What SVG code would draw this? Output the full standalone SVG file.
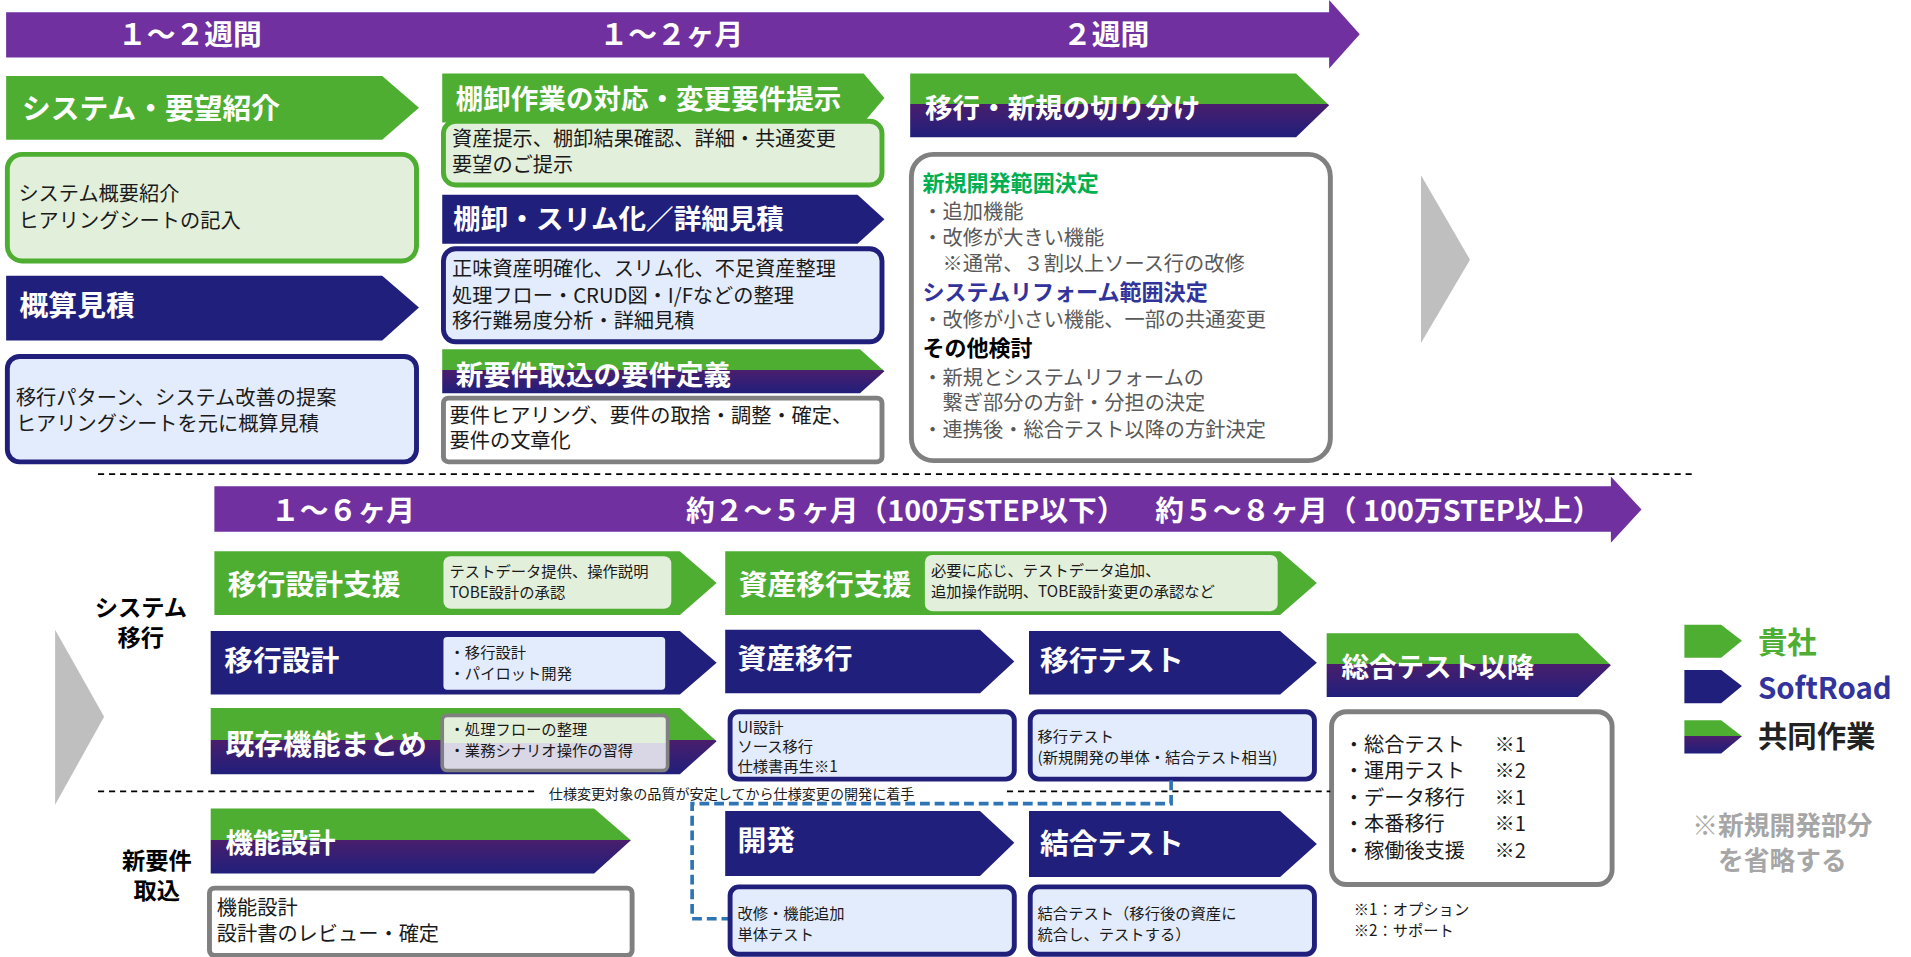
<svg xmlns="http://www.w3.org/2000/svg" width="1911" height="957" viewBox="0 0 1911 957">
<defs>
<linearGradient id="split" x1="0" y1="0" x2="0" y2="1">
<stop offset="0" stop-color="#4DAE32"/><stop offset="0.48" stop-color="#4DAE32"/><stop offset="0.48" stop-color="#4A1E6C"/><stop offset="1" stop-color="#201F7C"/>
</linearGradient>
<linearGradient id="splitbox" x1="0" y1="0" x2="0" y2="1">
<stop offset="0" stop-color="#E2EFDA"/><stop offset="0.5" stop-color="#E2EFDA"/><stop offset="0.5" stop-color="#D9D6E6"/><stop offset="1" stop-color="#D9D6E6"/>
</linearGradient>
<style>
text{font-family:"Noto Sans CJK JP","Liberation Sans",sans-serif}
.g{fill:#4DAE32}.n{fill:#201F7C}.s{fill:url(#split)}.p{fill:#7030A0}
.h{fill:#fff;font-weight:bold;font-size:23.5px}
.hb{fill:#fff;font-weight:bold;font-size:22.5px}
.t{fill:#1a1a1a;font-size:16.5px}
.ts{fill:#1a1a1a;font-size:12.5px}
.bg{fill:#E2EFDA;stroke:#4DAE32;stroke-width:4}
.bn{fill:#E3ECFC;stroke:#201F7C;stroke-width:4}
.bgr{fill:#fff;stroke:#808080;stroke-width:4}
.gr{fill:#595959;font-size:16.5px}
</style>
</defs>
<g transform="scale(1.225)">
<g id="bar1"><path class="p" d="M5,10H1085V0L1110,28L1085,56V47H5Z"/>
<text x="155" y="37" class="h" text-anchor="middle">１～２週間</text>
<text x="548" y="37" class="h" text-anchor="middle">１～２ヶ月</text>
<text x="903" y="37" class="h" text-anchor="middle">２週間</text></g>

<g id="n1"><path class="g" d="M5,62H312L342,88L312,114H5Z"/><text x="18" y="97" class="h">システム・要望紹介</text></g>
<g id="n1b"><rect x="6" y="126" width="334" height="87" rx="12" class="bg"/><text x="15" y="164" class="t">システム概要紹介</text><text x="15" y="186" class="t">ヒアリングシートの記入</text></g>
<g id="n2"><path class="n" d="M5,225H312L342,251L312,278H5Z"/><text x="16" y="258" class="h">概算見積</text></g>
<g id="n2b"><rect x="6" y="291" width="334" height="86" rx="10" class="bn"/><text x="13" y="331" class="t">移行パターン、システム改善の提案</text><text x="13" y="352" class="t">ヒアリングシートを元に概算見積</text></g>

<g id="n3"><path class="g" d="M361,60H705L722,80L705,100H361Z"/><text x="372" y="89" class="hb">棚卸作業の対応・変更要件提示</text></g>
<g id="n3b"><rect x="362" y="99" width="358" height="52" rx="10" class="bg"/><text x="369" y="119" class="t">資産提示、棚卸結果確認、詳細・共通変更</text><text x="369" y="140" class="t">要望のご提示</text></g>
<g id="n4"><path class="n" d="M361,159H700L722,179L700,199H361Z"/><text x="370" y="187" class="hb">棚卸・スリム化／詳細見積</text></g>
<g id="n4b"><rect x="362" y="203" width="358" height="76" rx="10" class="bn"/><text x="369" y="225" class="t">正味資産明確化、スリム化、不足資産整理</text><text x="369" y="247" class="t">処理フロー・CRUD図・I/Fなどの整理</text><text x="369" y="268" class="t">移行難易度分析・詳細見積</text></g>
<g id="n5"><path class="s" d="M361,285H702L722,303L702,321H361Z"/><text x="372" y="314" class="hb">新要件取込の要件定義</text></g>
<g id="n5b"><rect x="362" y="325" width="358" height="52" rx="4" class="bgr"/><text x="367" y="345" class="t">要件ヒアリング、要件の取捨・調整・確定、</text><text x="367" y="366" class="t">要件の文章化</text></g>

<g id="n6"><path class="s" d="M743,60H1058L1085,86L1058,112H743Z"/><text x="755" y="96" class="hb">移行・新規の切り分け</text></g>
<g id="n6b"><rect x="744" y="126" width="342" height="250" rx="18" class="bgr"/>
<text x="753" y="156" style="fill:#00B050;font-weight:bold;font-size:18px">新規開発範囲決定</text>
<text x="753" y="179" class="gr">・追加機能</text>
<text x="753" y="200" class="gr">・改修が大きい機能</text>
<text x="753" y="221" class="gr">　※通常、３割以上ソース行の改修</text>
<text x="753" y="245" style="fill:#33339C;font-weight:bold;font-size:18px">システムリフォーム範囲決定</text>
<text x="753" y="267" class="gr">・改修が小さい機能、一部の共通変更</text>
<text x="753" y="291" style="fill:#000;font-weight:bold;font-size:18px">その他検討</text>
<text x="753" y="314" class="gr">・新規とシステムリフォームの</text>
<text x="753" y="335" class="gr">　繋ぎ部分の方針・分担の決定</text>
<text x="753" y="357" class="gr">・連携後・総合テスト以降の方針決定</text></g>

<path d="M1160,143L1200,212L1160,280Z" fill="#BFBFBF"/>
<path d="M45,514L85,585L45,657Z" fill="#BFBFBF"/>
<line x1="80" y1="387" x2="1385" y2="387" stroke="#000" stroke-width="1.5" stroke-dasharray="5,4"/>

<g id="bar2"><path class="p" d="M175,397H1315V389L1340,416L1315,443V434H175Z"/>
<text x="280" y="425" class="h" text-anchor="middle">１～６ヶ月</text>
<text x="560" y="425" class="h">約２～５ヶ月（100万STEP以下）</text>
<text x="943" y="425" class="h">約５～８ヶ月（ 100万STEP以上）</text></g>

<text x="115" y="503" style="font-weight:bold;font-size:19px;fill:#000" text-anchor="middle">システム</text>
<text x="115" y="527" style="font-weight:bold;font-size:19px;fill:#000" text-anchor="middle">移行</text>
<text x="128" y="709" style="font-weight:bold;font-size:19px;fill:#000" text-anchor="middle">新要件</text>
<text x="128" y="734" style="font-weight:bold;font-size:19px;fill:#000" text-anchor="middle">取込</text>

<g id="a1"><path class="g" d="M175,450H555L585,476L555,502H175Z"/><text x="186" y="486" class="h">移行設計支援</text>
<rect x="362" y="454" width="186" height="43" rx="6" fill="#E2EFDA"/><text x="367" y="471" class="ts">テストデータ提供、操作説明</text><text x="367" y="488" class="ts">TOBE設計の承認</text></g>
<g id="a2"><path class="g" d="M592,450H1045L1075,476L1045,502H592Z"/><text x="603" y="486" class="h">資産移行支援</text>
<rect x="755" y="453" width="288" height="46" rx="6" fill="#E2EFDA"/><text x="760" y="470" class="ts">必要に応じ、テストデータ追加、</text><text x="760" y="487" class="ts">追加操作説明、TOBE設計変更の承認など</text></g>

<g id="b1"><path class="n" d="M172,515H555L585,541L555,567H172Z"/><text x="183" y="548" class="h">移行設計</text>
<rect x="362" y="520" width="181" height="43" rx="3" fill="#E3ECFC"/><text x="367" y="537" class="ts">・移行設計</text><text x="367" y="554" class="ts">・パイロット開発</text></g>
<g id="b2"><path class="n" d="M592,514H800L828,540L800,566H592Z"/><text x="602" y="546" class="h">資産移行</text></g>
<g id="b3"><path class="n" d="M840,515H1045L1075,541L1045,567H840Z"/><text x="849" y="548" class="h">移行テスト</text></g>
<g id="b4"><path class="s" d="M1083,517H1288L1315,543L1288,569H1083Z"/><text x="1095" y="553" class="hb">総合テスト以降</text></g>

<g id="c1"><path class="s" d="M172,578H555L585,605L555,632H172Z"/><text x="184" y="616" class="h">既存機能まとめ</text>
<rect x="361" y="584" width="184" height="45" rx="4" fill="url(#splitbox)" stroke="#808080" stroke-width="3"/><text x="367" y="600" class="ts">・処理フローの整理</text><text x="367" y="617" class="ts">・業務シナリオ操作の習得</text></g>
<g id="c2"><rect x="596" y="581" width="232" height="55" rx="7" class="bn"/><text x="602" y="598" class="ts">UI設計</text><text x="602" y="614" class="ts">ソース移行</text><text x="602" y="630" class="ts">仕様書再生※1</text></g>
<g id="c3"><rect x="841" y="581" width="232" height="55" rx="7" class="bn"/><text x="847" y="606" class="ts">移行テスト</text><text x="847" y="623" class="ts">(新規開発の単体・結合テスト相当)</text></g>
<g id="c4"><rect x="1087" y="581" width="229" height="141" rx="12" class="bgr"/>
<text x="1097" y="614" class="t">・総合テスト</text><text x="1220" y="614" class="t">※1</text>
<text x="1097" y="635" class="t">・運用テスト</text><text x="1220" y="635" class="t">※2</text>
<text x="1097" y="657" class="t">・データ移行</text><text x="1220" y="657" class="t">※1</text>
<text x="1097" y="678" class="t">・本番移行</text><text x="1220" y="678" class="t">※1</text>
<text x="1097" y="700" class="t">・稼働後支援</text><text x="1220" y="700" class="t">※2</text></g>

<line x1="80" y1="646" x2="440" y2="646" stroke="#000" stroke-width="1.5" stroke-dasharray="5,4"/>
<line x1="822" y1="646" x2="1086" y2="646" stroke="#000" stroke-width="1.5" stroke-dasharray="5,4"/>
<text x="448" y="652" style="font-size:11.5px;fill:#1a1a1a">仕様変更対象の品質が安定してから仕様変更の開発に着手</text>

<g id="connectors"><path d="M956,637V656H565V750H595" fill="none" stroke="#2E75B6" stroke-width="3" stroke-dasharray="8,4"/></g>

<g id="d1"><path class="s" d="M172,660H485L515,686L485,713H172Z"/><text x="184" y="696" class="hb">機能設計</text></g>
<g id="d1b"><rect x="171" y="725" width="345" height="55" rx="4" class="bgr"/><text x="177" y="747" class="t">機能設計</text><text x="177" y="768" class="t">設計書のレビュー・確定</text></g>
<g id="d2"><path class="n" d="M592,662H800L828,688L800,715H592Z"/><text x="602" y="695" class="h">開発</text></g>
<g id="d3"><path class="n" d="M840,662H1045L1075,689L1045,716H840Z"/><text x="849" y="697" class="h">結合テスト</text></g>
<g id="d2b"><rect x="596" y="724" width="232" height="55" rx="7" class="bn"/><text x="602" y="750" class="ts">改修・機能追加</text><text x="602" y="767" class="ts">単体テスト</text></g>
<g id="d3b"><rect x="841" y="724" width="232" height="55" rx="7" class="bn"/><text x="847" y="750" class="ts">結合テスト（移行後の資産に</text><text x="847" y="767" class="ts">統合し、テストする）</text></g>

<text x="1105" y="747" class="ts">※1：オプション</text>
<text x="1105" y="764" class="ts">※2：サポート</text>

<g id="legend">
<path class="g" d="M1375,510H1405L1422,523L1405,537H1375Z"/><text x="1435" y="533" style="fill:#4DAE32;font-weight:bold;font-size:24px">貴社</text>
<path class="n" d="M1375,547H1405L1422,560L1405,574H1375Z"/><text x="1435" y="571" style="fill:#33339C;font-weight:bold;font-size:24px">SoftRoad</text>
<path class="s" d="M1375,588H1405L1422,601L1405,615H1375Z"/><text x="1435" y="610" style="fill:#222;font-weight:bold;font-size:24px">共同作業</text>
<text x="1455" y="682" text-anchor="middle" style="fill:#A6A6A6;font-weight:bold;font-size:21px">※新規開発部分</text>
<text x="1455" y="710" text-anchor="middle" style="fill:#A6A6A6;font-weight:bold;font-size:21px">を省略する</text>
</g>
</g>
</svg>
